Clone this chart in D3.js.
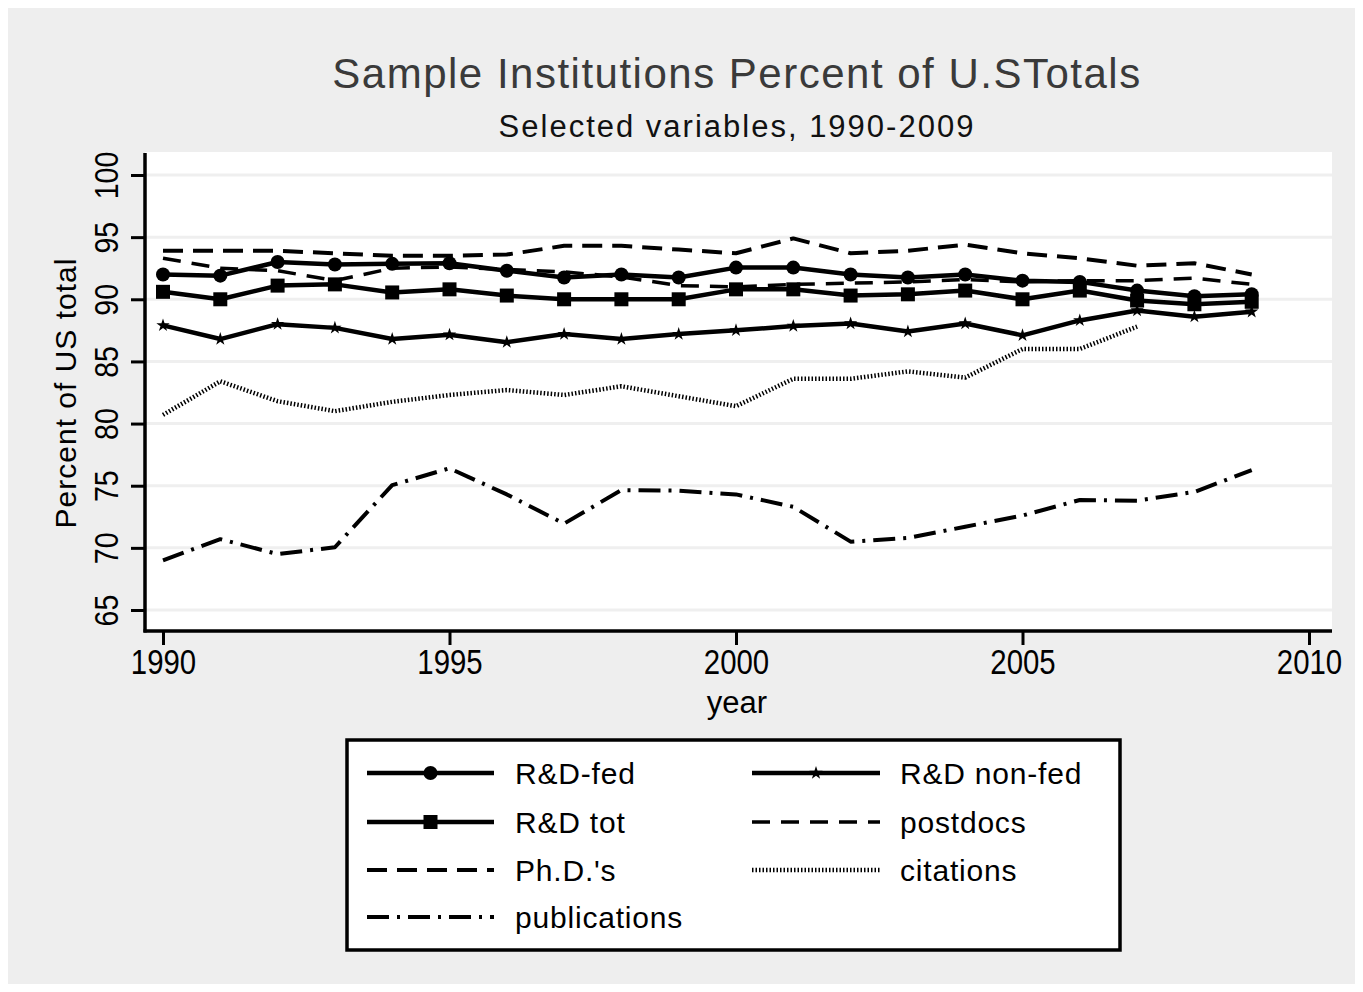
<!DOCTYPE html>
<html>
<head>
<meta charset="utf-8">
<script src="https://cdn.jsdelivr.net/npm/d3@7"></script>
<style>
  html, body { margin: 0; padding: 0; background: #ffffff; }
  svg { display: block; }
  text { font-family: "Liberation Sans", Arial, Helvetica, sans-serif; }
</style>
</head>
<body>
<svg id="chart" width="1363" height="992"></svg>
<script>
// ---- data ----
const years = [1990,1991,1992,1993,1994,1995,1996,1997,1998,1999,2000,2001,2002,2003,2004,2005,2006,2007,2008,2009];
const rdFed     = [92.0,91.9,93.0,92.8,92.85,92.9,92.3,91.75,92.0,91.75,92.55,92.55,92.0,91.75,92.0,91.5,91.4,90.7,90.25,90.4];
const rdNonFed  = [87.9,86.8,88.0,87.7,86.8,87.15,86.55,87.2,86.8,87.2,87.5,87.85,88.05,87.4,88.05,87.1,88.3,89.1,88.6,89.0];
const rdTot     = [90.6,90.0,91.1,91.2,90.55,90.8,90.3,90.0,90.0,90.0,90.8,90.8,90.3,90.4,90.7,90.0,90.7,89.9,89.6,89.8];
const postdocs  = [93.3,92.5,92.3,91.5,92.5,92.6,92.4,92.2,91.8,91.1,91.0,91.2,91.3,91.4,91.6,91.4,91.5,91.5,91.7,91.2];
const phds      = [93.9,93.9,93.9,93.7,93.5,93.5,93.6,94.3,94.3,94.0,93.7,94.9,93.7,93.9,94.4,93.7,93.3,92.7,92.9,92.0];
const citations = [80.7,83.4,81.8,81.0,81.75,82.3,82.7,82.3,83.0,82.2,81.4,83.6,83.6,84.2,83.7,86.0,86.0,87.8];
const publications = [69.0,70.7,69.5,70.05,75.05,76.4,74.3,71.95,74.65,74.6,74.3,73.3,70.5,70.8,71.7,72.6,73.85,73.8,74.5,76.25];

const xTicks = [1990,1995,2000,2005,2010];
const yTicks = [65,70,75,80,85,90,95,100];

const titleText = "Sample Institutions Percent of U.STotals";
const subtitleText = "Selected variables, 1990-2009";
const xLabel = "year";
const yLabel = "Percent of US total";

const seriesNames = ["R&D-fed","R&D non-fed","R&D tot","postdocs","Ph.D.'s","citations","publications"];

// ---- drawing ----
const svg = d3.select("#chart");
const W = 1363, H = 992;

svg.append("rect").attr("x", 8).attr("y", 8).attr("width", W - 16).attr("height", H - 16).attr("fill", "#eeeeee");

const plot = {left: 145, right: 1332, top: 152, bottom: 631};
svg.append("rect").attr("x", plot.left).attr("y", plot.top)
   .attr("width", plot.right - plot.left).attr("height", plot.bottom - plot.top).attr("fill", "#ffffff");

const x = d3.scaleLinear().domain([1990, 2010]).range([163, 1309]);
const y = d3.scaleLinear().domain([65, 100]).range([610, 175]);

// gridlines
svg.append("g").selectAll("line").data(yTicks).join("line")
  .attr("x1", plot.left).attr("x2", plot.right)
  .attr("y1", d => y(d)).attr("y2", d => y(d))
  .attr("stroke", "#efefef").attr("stroke-width", 3);

// series
const series = [
  {name: "publications", vals: publications, w: 4, dash: "22,8,3,8"},
  {name: "citations", vals: citations, w: 4.5, dash: "1.5,2"},
  {name: "R&D non-fed", vals: rdNonFed, w: 4.5, dash: null, marker: "small"},
  {name: "R&D tot", vals: rdTot, w: 4.5, dash: null, marker: "square"},
  {name: "postdocs", vals: postdocs, w: 3.5, dash: "18,11"},
  {name: "R&D-fed", vals: rdFed, w: 4.5, dash: null, marker: "circle"},
  {name: "Ph.D.'s", vals: phds, w: 4, dash: "20,10"}
];

const line = d3.line().x(d => x(d[0])).y(d => y(d[1]));
const gS = svg.append("g");
series.forEach(s => {
  const pts = s.vals.map((v, i) => [years[i], v]);
  gS.append("path").datum(pts).attr("d", line)
    .attr("fill", "none").attr("stroke", "#000").attr("stroke-width", s.w)
    .attr("stroke-linejoin", "round")
    .attr("stroke-dasharray", s.dash);
  if (s.marker) drawMarkers(gS, pts.map(p => [x(p[0]), y(p[1])]), s.marker);
});

function drawMarkers(g, pts, type) {
  pts.forEach(([px, py]) => drawMarker(g, px, py, type));
}
function drawMarker(g, px, py, type) {
  if (type === "circle") {
    g.append("circle").attr("cx", px).attr("cy", py).attr("r", 7).attr("fill", "#000");
  } else if (type === "square") {
    g.append("rect").attr("x", px - 7).attr("y", py - 7).attr("width", 14).attr("height", 14).attr("fill", "#000");
  } else {
    g.append("path").attr("transform", `translate(${px},${py})`)
      .attr("d", d3.symbol(d3.symbolStar, 55)()).attr("fill", "#000");
  }
}

// axes
const gx = svg.append("g").attr("transform", `translate(0,${plot.bottom})`)
  .call(d3.axisBottom(x).tickValues(xTicks).tickFormat(d3.format("d")).tickSize(14).tickPadding(6));
gx.select(".domain").remove();
gx.selectAll(".tick line").attr("stroke", "#000").attr("stroke-width", 3);
gx.selectAll(".tick text").attr("font-size", 35).attr("fill", "#000")
  .attr("dy", 0).attr("y", 43).attr("transform", "scale(0.84,1)");
svg.append("line").attr("x1", plot.left - 1.5).attr("x2", plot.right).attr("y1", plot.bottom).attr("y2", plot.bottom)
  .attr("stroke", "#000").attr("stroke-width", 3.5);

const gy = svg.append("g").attr("transform", `translate(${plot.left},0)`)
  .call(d3.axisLeft(y).tickValues(yTicks).tickSize(14).tickPadding(0).tickFormat(d3.format("d")));
gy.select(".domain").remove();
gy.selectAll(".tick line").attr("stroke", "#000").attr("stroke-width", 3);
gy.selectAll(".tick text").attr("font-size", 34).attr("fill", "#000")
  .attr("text-anchor", "middle").attr("x", 0).attr("dy", 0)
  .attr("transform", "translate(-27,0) rotate(-90) scale(0.84,1)");
svg.append("line").attr("x1", plot.left).attr("x2", plot.left).attr("y1", plot.top + 1).attr("y2", plot.bottom + 1.5)
  .attr("stroke", "#000").attr("stroke-width", 3.5);

// titles
svg.append("text").attr("x", 737).attr("y", 88).attr("text-anchor", "middle")
  .attr("font-size", 42).attr("letter-spacing", 1.5).attr("fill", "#3a3a3a").text(titleText);
svg.append("text").attr("x", 737).attr("y", 137).attr("text-anchor", "middle")
  .attr("font-size", 31).attr("letter-spacing", 2).attr("fill", "#111").text(subtitleText);
svg.append("text").attr("x", 737).attr("y", 713).attr("text-anchor", "middle")
  .attr("font-size", 31).attr("fill", "#000").text(xLabel);
svg.append("text").attr("transform", "translate(76,393) rotate(-90)").attr("text-anchor", "middle")
  .attr("font-size", 30).attr("letter-spacing", 1).attr("fill", "#000").text(yLabel);

// legend
const lg = svg.append("g");
lg.append("rect").attr("x", 347).attr("y", 740).attr("width", 773).attr("height", 210)
  .attr("fill", "#fff").attr("stroke", "#000").attr("stroke-width", 3.5);
const styleOf = Object.fromEntries(series.map(s => [s.name, s]));
const rowsY = [773, 822, 870, 917];
seriesNames.forEach((name, i) => {
  const col = i % 2, row = Math.floor(i / 2);
  const x0 = col === 0 ? 367 : 752, x1 = col === 0 ? 494 : 880;
  const ty = rowsY[row];
  const s = styleOf[name];
  lg.append("line").attr("x1", x0).attr("x2", x1).attr("y1", ty).attr("y2", ty)
    .attr("stroke", "#000").attr("stroke-width", s.w).attr("stroke-dasharray", s.dash);
  if (s.marker) drawMarker(lg, (x0 + x1) / 2, ty, s.marker);
  lg.append("text").attr("x", col === 0 ? 515 : 900).attr("y", ty + 11)
    .attr("font-size", 30).attr("letter-spacing", 0.8).attr("fill", "#000").text(name);
});
</script>
</body>
</html>
